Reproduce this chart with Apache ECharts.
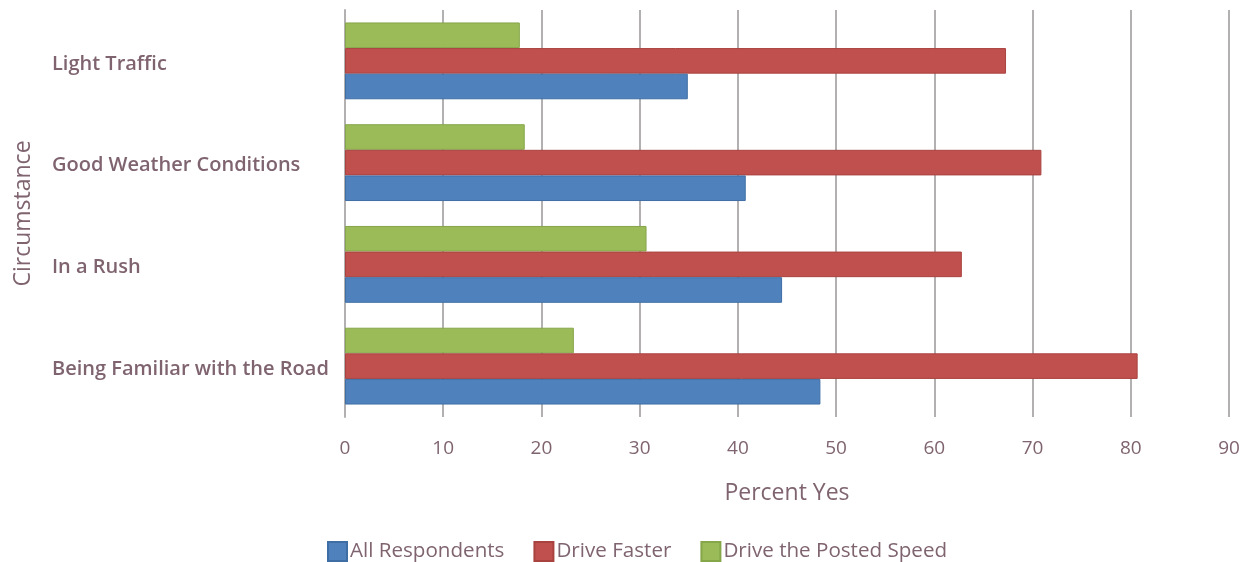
<!DOCTYPE html>
<html><head><meta charset="utf-8">
<script src="https://cdn.jsdelivr.net/npm/echarts@6/dist/echarts.min.js"></script>
<style>html,body{margin:0;padding:0;background:#fff}#c{width:1249px;height:562px}</style>
</head><body><div id="c"></div>
<script>
// categories listed top to bottom
const categories = ["Light Traffic", "Good Weather Conditions", "In a Rush", "Being Familiar with the Road"];
const allRespondents = [34.9, 40.8, 44.5, 48.4];
const driveFaster = [67.3, 70.9, 62.8, 80.7];
const drivePosted = [17.8, 18.3, 30.7, 23.3];
const seriesNames = ["All Respondents", "Drive Faster", "Drive the Posted Speed"];
const xTicks = [0, 90, 10];

const txt = '#7f6470';
const font = '"Open Sans", sans-serif';
const chart = echarts.init(document.getElementById('c'));
const mk = (name, data, color, border) => ({
  name, type: 'bar', data, barGap: '0%', barCategoryGap: '24.5%',
  itemStyle: { color, borderColor: border, borderWidth: 1 }
});
chart.setOption({
  animation: false,
  textStyle: { fontFamily: font },
  grid: { left: 345, right: 20, top: 10, bottom: 145 },
  xAxis: {
    type: 'value', min: xTicks[0], max: xTicks[1], interval: xTicks[2],
    name: 'Percent Yes', nameLocation: 'middle', nameGap: 65,
    nameTextStyle: { color: txt, fontSize: 23, fontFamily: font },
    axisLine: { show: false }, axisTick: { show: false },
    axisLabel: { color: txt, fontSize: 19, margin: 22, fontFamily: font },
    splitLine: { show: true, lineStyle: { color: '#b3b0b2', width: 2 } }
  },
  yAxis: {
    type: 'category', data: categories, inverse: true,
    name: 'Circumstance', nameLocation: 'middle', nameGap: 310, nameRotate: 90,
    nameTextStyle: { color: txt, fontSize: 23, fontFamily: font },
    axisLine: { show: true, lineStyle: { color: '#b3b0b2', width: 2 } },
    axisTick: { show: false },
    axisLabel: {
      align: 'left', margin: 293,
      formatter: '{a|{value}}',
      rich: { a: { color: txt, fontSize: 20, fontWeight: 600, fontFamily: font, padding: [6, 0, 0, 0] } }
    }
  },
  legend: {
    left: 322, top: 536, itemWidth: 19, itemHeight: 19, itemGap: 29,
    icon: 'rect',
    textStyle: { color: txt, fontSize: 20.6, fontFamily: font, padding: [0,0,0,-2] },
    data: seriesNames
  },
  series: [
    mk(seriesNames[2], drivePosted, '#9bbb59', '#86a64a'),
    mk(seriesNames[1], driveFaster, '#c0504d', '#a94340'),
    mk(seriesNames[0], allRespondents, '#4f81bd', '#3f6ea5')
  ]
});
</script></body></html>
